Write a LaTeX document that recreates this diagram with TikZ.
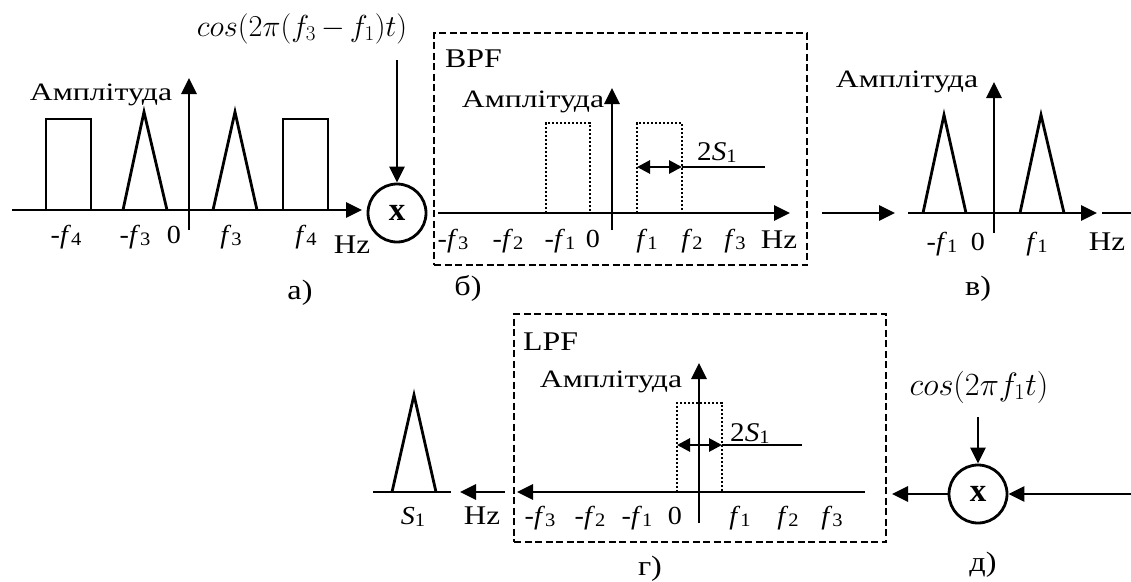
\documentclass[tikz,border=0pt]{standalone}
\usepackage{fontspec}
\setmainfont{Liberation Serif}
\usetikzlibrary{arrows.meta}
\newcommand\fsb[1]{\textit{f}\raisebox{-2.5pt}{\fontsize{19}{21}\selectfont #1}}
\newcommand\ssb[1]{\textit{S}\raisebox{-2.5pt}{\fontsize{19}{21}\selectfont #1}}
\tikzset{
  lbl/.style={font=\fontsize{26}{30}\selectfont, inner sep=0pt, anchor=base, xscale=1.08},
  hz/.style={font=\fontsize{27}{30}\selectfont, inner sep=0pt, anchor=base, xscale=1.15},
  amp/.style={font=\fontsize{25}{28}\selectfont, inner sep=0pt, anchor=base, xscale=1.27},
  ttl/.style={font=\fontsize{27}{30}\selectfont, inner sep=0pt, anchor=base west, xscale=1.18},
  capt/.style={font=\fontsize{28}{32}\selectfont, inner sep=0pt, anchor=base, xscale=1.15},
  frm/.style={font=\fontsize{24}{28}\selectfont, inner sep=0pt, anchor=base},
  axis/.style={line width=2.8pt, -{Triangle[length=16pt,width=15pt]}},
  spec/.style={line width=2.8pt, line join=miter},
  dotbox/.style={line width=2.2pt, dash pattern=on 2.2pt off 1.8pt},
  dbox/.style={line width=2.2pt, dash pattern=on 7pt off 3.5pt},
  thin/.style={line width=1.3pt},
  dbl/.style={line width=2.8pt, {Triangle[length=13pt,width=13pt]}-{Triangle[length=13pt,width=13pt]}},
  mult/.style={circle, draw, line width=2.8pt, minimum size=58pt, inner sep=0pt, font=\fontsize{33}{36}\selectfont\bfseries}
}
\begin{document}
\begin{tikzpicture}[x=1pt,y=-1pt]
\useasboundingbox (0,0) rectangle (1131,581);
% ---------- a) ----------
\coordinate (aL) at (12,210);
\coordinate (aR) at (362,210);
\coordinate (aB) at (189,230);
\coordinate (aT) at (189,78);
\draw[axis] (aL) -- (aR);
\draw[axis] (aB) -- (aT);
\draw[spec] (46,210) -- (46,119) -- (91,119) -- (91,210);
\draw[spec] (123,210) -- (144,112) -- (167,210);
\draw[spec] (213,210) -- (235,112) -- (257,210);
\draw[spec] (283,210) -- (283,119) -- (328,119) -- (328,210);
\node[amp] (ampa) at (101,100) {Амплітуда};
\node[lbl] (la1) at (66,243) {-\fsb{4}};
\node[lbl] (la2) at (135,243) {-\fsb{3}};
\node[lbl] (la3) at (174,243) {0};
\node[lbl] (la4) at (231,243) {\fsb{3}};
\node[lbl] (la5) at (306,243) {\fsb{4}};
\node[hz] (la6) at (352,253) {Hz};
\node[capt] (capa) at (300,299) {а)};
\node[mult] (m1) at (397,213) {x};
\node[frm, scale=1.22] (cos1) at (302,36) {$cos(2\pi(f_3\mskip3mu{-}\mskip3mu f_1)t)$};
\coordinate (c1top) at (397,60);
\draw[axis] (c1top) -- (m1.north);
% ---------- b) BPF ----------
\node[dbox, draw, minimum width=373pt, minimum height=232pt, inner sep=0pt] (bpf) at (620.5,149) {};
\node[ttl] (bpft) at (445,67) {BPF};
\coordinate (bL) at (438,213);
\coordinate (bR) at (790,213);
\draw[axis] (bL) -- (bR);
\draw[axis] (612,230) -- (612,88);
\draw[dotbox] (546,213) rectangle (590,123);
\draw[dotbox] (637,213) rectangle (682,123);
\draw[dbl] (637,167) -- (682,167);
\draw[thin] (682,167) -- (765,167);
\node[lbl, anchor=base west, font=\fontsize{27}{30}\selectfont] (s2b) at (697,160) {2\ssb{1}};
\node[amp] (ampb) at (533,107) {Амплітуда};
\node[lbl] (lb1) at (453,247) {-\fsb{3}};
\node[lbl] (lb2) at (508,247) {-\fsb{2}};
\node[lbl] (lb3) at (560,247) {-\fsb{1}};
\node[lbl] (lb4) at (593,247) {0};
\node[lbl] (lb5) at (647,247) {\fsb{1}};
\node[lbl] (lb6) at (692,247) {\fsb{2}};
\node[lbl] (lb7) at (735,247) {\fsb{3}};
\node[hz] (lb8) at (779,248) {Hz};
\node[capt] (capb) at (468,295) {б)};
% ---------- v) ----------
\coordinate (vin) at (822,213);
\coordinate (vinT) at (895,213);
\draw[axis] (vin) -- (vinT);
\draw[axis] (908,213) -- (1097,213);
\draw[line width=2.8pt] (1102,213) -- (1131,213);
\draw[axis] (994,233) -- (994,82);
\draw[spec] (923,213) -- (944,115) -- (966,213);
\draw[spec] (1020,213) -- (1041,115) -- (1064,213);
\node[amp] (ampv) at (907,87) {Амплітуда};
\node[lbl] (lv1) at (942,250) {-\fsb{1}};
\node[lbl] (lv2) at (978,250) {0};
\node[lbl] (lv3) at (1037,250) {\fsb{1}};
\node[hz] (lv4) at (1107,250) {Hz};
\node[capt] (capv) at (978,295) {в)};
% ---------- g) LPF ----------
\node[dbox, draw, minimum width=372pt, minimum height=228pt, inner sep=0pt] (lpf) at (700,428) {};
\node[ttl] (lpft) at (523,350) {LPF};
\coordinate (gR) at (865,492);
\coordinate (gL) at (517,492);
\draw[axis] (gR) -- (gL);
\draw[axis] (699,523) -- (699,363);
\draw[dotbox] (677,492) rectangle (722,403);
\draw[dbl] (677,445) -- (722,445);
\draw[thin] (722,445) -- (802,445);
\node[lbl, anchor=base west, font=\fontsize{27}{30}\selectfont] (s2g) at (730,441) {2\ssb{1}};
\node[amp] (ampg) at (611,387) {Амплітуда};
\node[lbl] (lg1) at (540,524) {-\fsb{3}};
\node[lbl] (lg2) at (590,524) {-\fsb{2}};
\node[lbl] (lg3) at (637,524) {-\fsb{1}};
\node[lbl] (lg4) at (675,524) {0};
\node[lbl] (lg5) at (740,524) {\fsb{1}};
\node[lbl] (lg6) at (788,524) {\fsb{2}};
\node[lbl] (lg7) at (832,524) {\fsb{3}};
\node[capt] (capg) at (650,575) {г)};
% output S1
\coordinate (gout) at (505,492);
\coordinate (goutT) at (460,492);
\draw[axis] (gout) -- (goutT);
\node[hz] (hzg) at (482,524) {Hz};
\draw[thin] (373,492) -- (451,492);
\draw[spec] (392,492) -- (414,395) -- (436,492);
\node[lbl] (s1) at (413,524) {\ssb{1}};
% ---------- d) ----------
\node[mult] (m2) at (978,494) {x};
\node[frm, scale=1.3] (cos2) at (979,395) {$cos(2\pi f_1t)$};
\coordinate (c2top) at (978,417);
\draw[axis] (c2top) -- (m2.north);
\coordinate (din) at (1131,494);
\draw[axis] (din) -- (m2.east);
\draw[axis] (m2.west) -- (892,494);
\node[capt] (capd) at (983,571) {д)};
\end{tikzpicture}
\end{document}
